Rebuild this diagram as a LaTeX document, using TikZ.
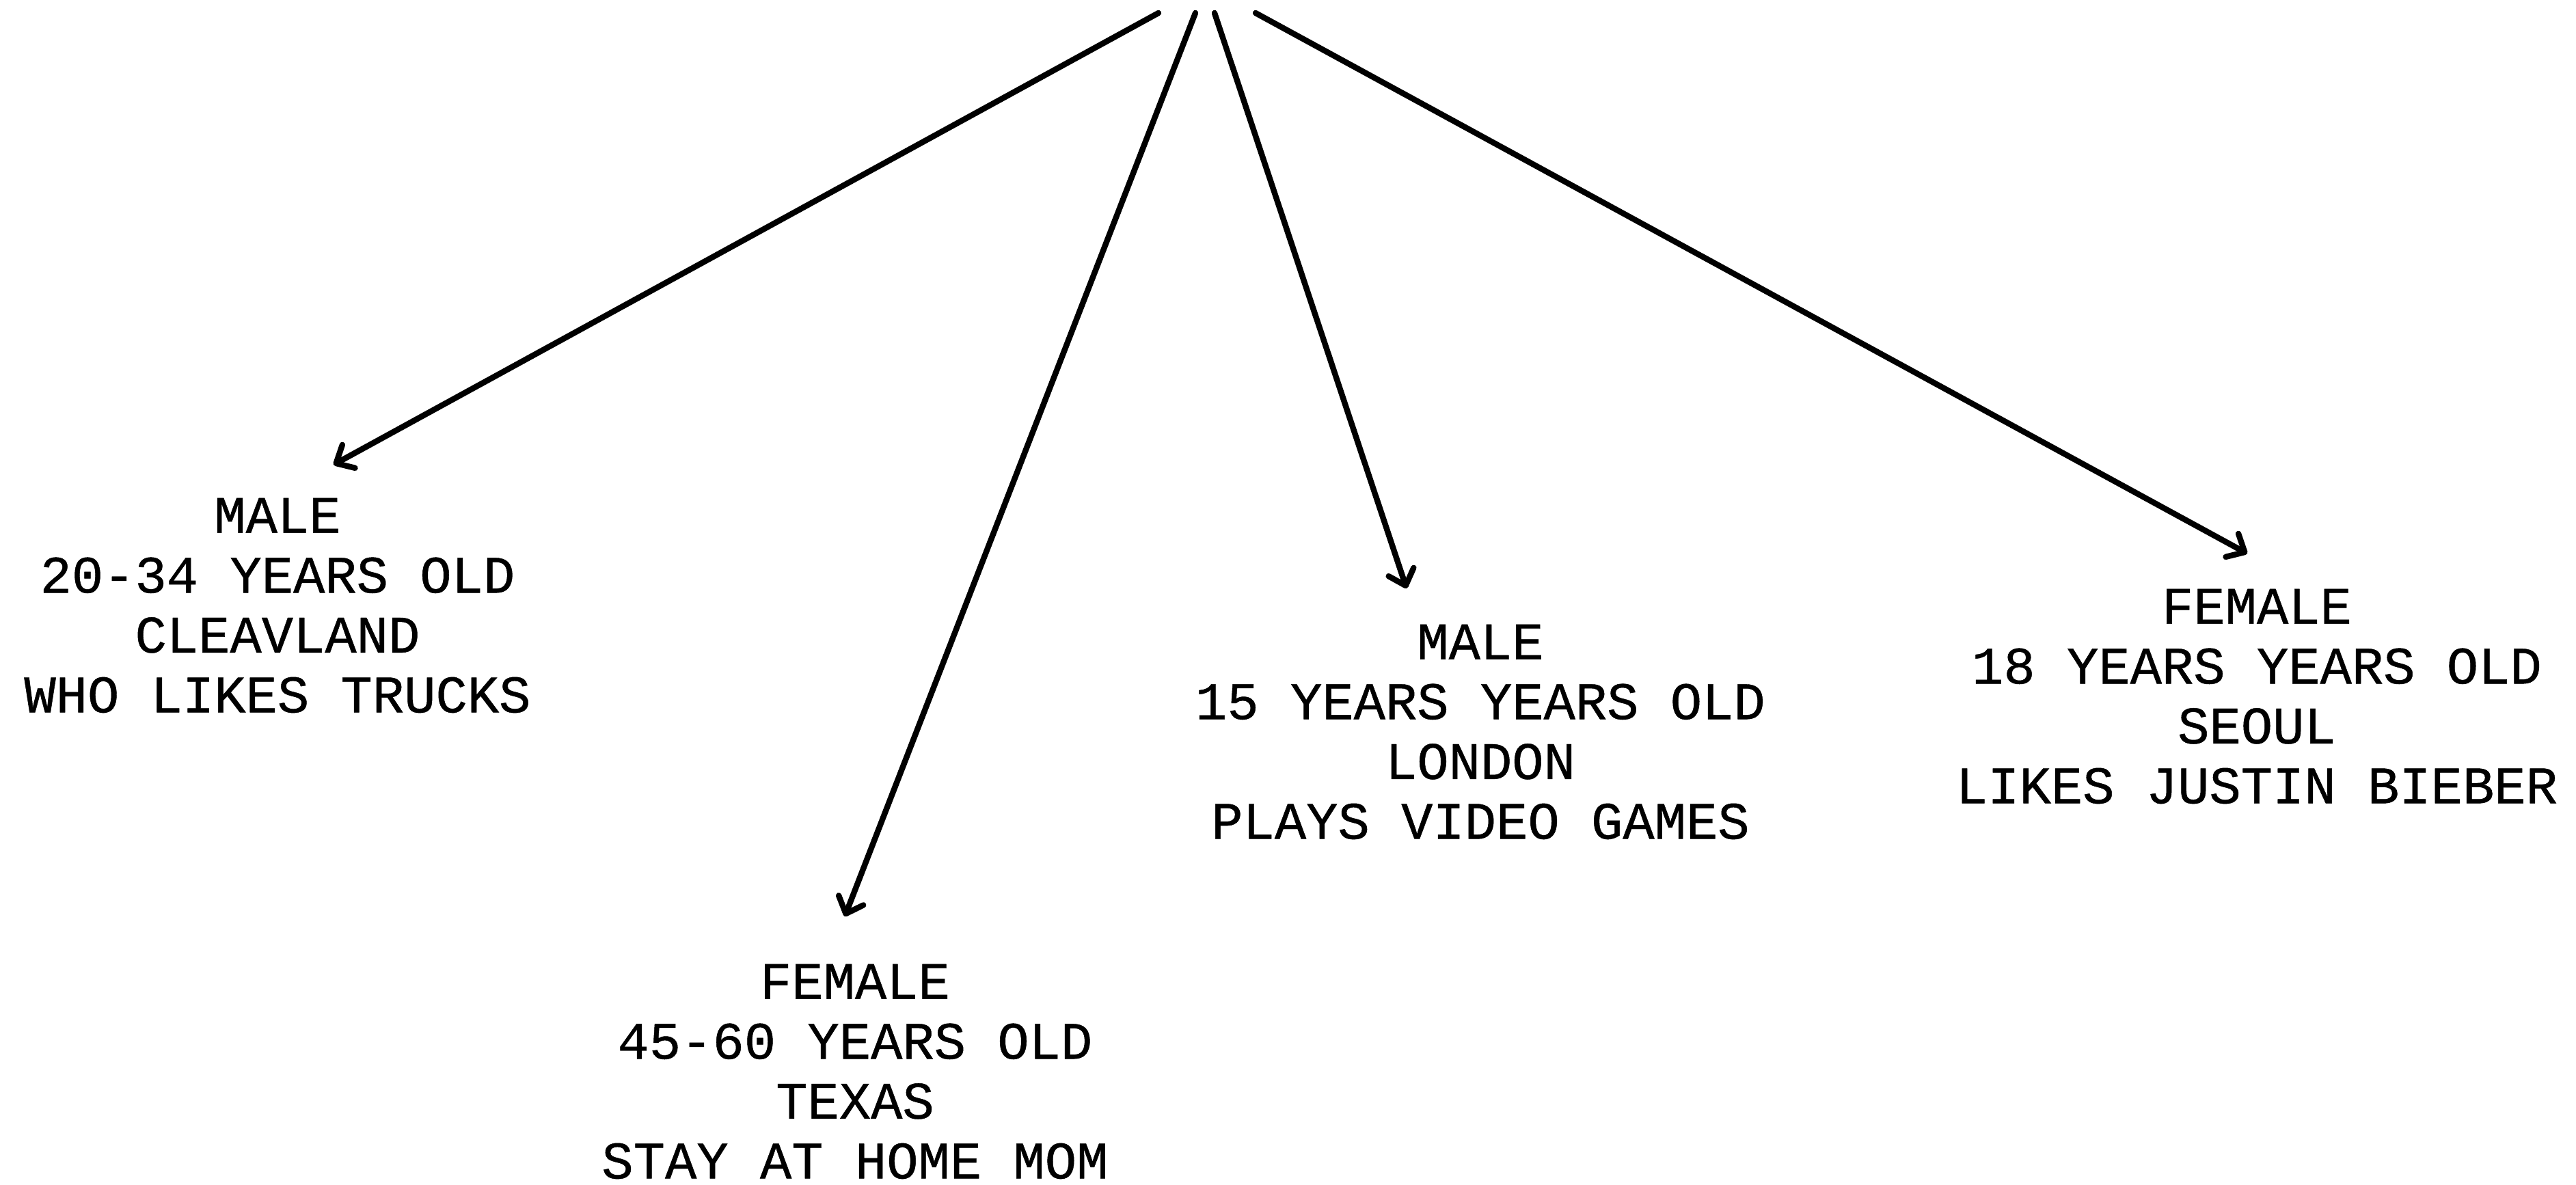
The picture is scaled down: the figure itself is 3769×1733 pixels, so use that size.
\documentclass[tikz,border=0pt]{standalone}
\usepackage{fontspec}
\setmonofont[FakeBold=0.6]{Liberation Mono}
\usetikzlibrary{arrows.meta}
\begin{document}
\begin{tikzpicture}[x=0.01cm, y=-0.01cm,
  persona/.style={font=\ttfamily\fontsize{21.95pt}{24.9pt}\selectfont, align=center, inner sep=0pt},
  pointer/.style={line width=2.4pt, line cap=round,
    -{Straight Barb[length=6pt, width=11pt, line cap=round, line join=round]}}]
  \fill[white] (0,0) rectangle (3769,1733);
  \useasboundingbox (0,0) rectangle (3769,1733);

  % audience profiles
  \node[persona] (cleveland) at (406,886) {MALE\\20-34 YEARS OLD\\CLEAVLAND\\WHO LIKES TRUCKS};
  \node[persona] (texas) at (1251,1568) {FEMALE\\45-60 YEARS OLD\\TEXAS\\STAY AT HOME MOM};
  \node[persona] (london) at (2166,1071) {MALE\\15 YEARS YEARS OLD\\LONDON\\PLAYS VIDEO GAMES};
  \node[persona] (seoul) at (3302,1019) {FEMALE\\18 YEARS YEARS OLD\\SEOUL\\LIKES JUSTIN BIEBER};

  % fan of arrows from the top
  \coordinate (s1) at (1695,19);
  \coordinate (s2) at (1749,19);
  \coordinate (s3) at (1777,19);
  \coordinate (s4) at (1837,19);
  \coordinate (t1) at (488,680);
  \coordinate (t2) at (1236,1341);
  \coordinate (t3) at (2058,861);
  \coordinate (t4) at (3288,810);

  \draw[pointer] (s1) -- (t1);
  \draw[pointer] (s2) -- (t2);
  \draw[pointer] (s3) -- (t3);
  \draw[pointer] (s4) -- (t4);
\end{tikzpicture}
\end{document}
